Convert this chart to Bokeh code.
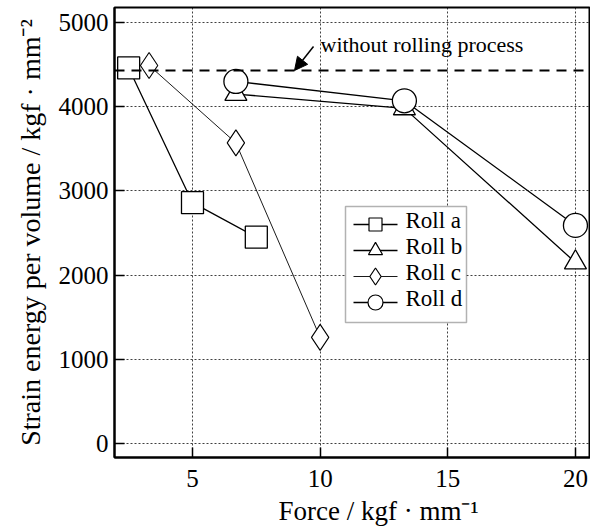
import math
from bokeh.plotting import figure
from bokeh.models import (Span, Label, Arrow, NormalHead, FixedTicker, Range1d,
                          BoxAnnotation, Title)
from bokeh.embed import file_html
from bokeh.resources import INLINE

# ---- data ----
roll_a_x = [2.5, 5.0, 7.5]
roll_a_y = [4460, 2860, 2450]
roll_b_x = [6.7, 13.3, 20.0]
roll_b_y = [4150, 3980, 2150]
roll_c_x = [3.3, 6.7, 10.0]
roll_c_y = [4490, 3570, 1260]
roll_d_x = [6.7, 13.3, 20.0]
roll_d_y = [4300, 4070, 2590]
reference_level = 4430
x_ticks = [5, 10, 15, 20]
y_ticks = [0, 1000, 2000, 3000, 4000, 5000]
series_names = ["Roll a", "Roll b", "Roll c", "Roll d"]

FONT = "Liberation Serif"

# layout (pixels)
W, H = 590, 531
FL, FR, FT, FB = 114, 590, 7, 457
X0, X1 = 1.945, 20.59
Y0, Y1 = -166, 5178


def sx(px):
    return X0 + (px - FL) * (X1 - X0) / (FR - FL)


def sy(py):
    return Y1 - (py - FT) * (Y1 - Y0) / (FB - FT)


p = figure(width=W, height=H, output_backend="svg", toolbar_location=None,
           x_range=Range1d(X0, X1), y_range=Range1d(Y0, Y1),
           min_border_left=FL, min_border_right=W - FR,
           min_border_top=FT, min_border_bottom=H - FB)

p.background_fill_color = "white"
p.border_fill_color = "white"
p.outline_line_color = "black"
p.outline_line_width = 2

for ax in (p.xaxis, p.yaxis):
    ax.major_label_text_font = FONT
    ax.major_label_text_font_size = "25px"
    ax.major_label_text_color = "black"
    ax.axis_line_color = "black"
    ax.axis_line_width = 2
    ax.major_tick_in = 10
    ax.major_tick_out = 0
    ax.major_tick_line_color = "black"
    ax.major_tick_line_width = 1.5
    ax.minor_tick_line_color = None
    ax.axis_label_text_font = FONT
    ax.axis_label_text_font_style = "normal"
    ax.axis_label_text_color = "black"
p.xaxis.ticker = FixedTicker(ticks=x_ticks)
p.yaxis.ticker = FixedTicker(ticks=y_ticks)
p.xaxis.major_label_standoff = 12
p.yaxis.major_label_standoff = 6

p.yaxis.axis_label = "Strain energy per volume / kgf · mm⁻²"
p.yaxis.axis_label_text_font_size = "28px"
p.yaxis.axis_label_standoff = 10

p.add_layout(Title(text="Force  / kgf · mm⁻¹", align="left", offset=164,
                   text_font=FONT, text_font_size="27px", text_font_style="normal",
                   text_color="black", standoff=8), "below")

p.grid.grid_line_color = "black"
p.grid.grid_line_alpha = 0.75
p.grid.grid_line_dash = "2 2"
p.grid.grid_line_width = 1

# reference dashed line
p.add_layout(Span(location=reference_level, dimension="width",
                  line_color="black", line_width=2, line_dash="10 7"))

# series
series = [
    (roll_a_x, roll_a_y, "square", 22, 1.3, 13),
    (roll_c_x, roll_c_y, "diamond", 26, 0.9, 17),
    (roll_b_x, roll_b_y, "triangle", 22, 1.3, 14),
    (roll_d_x, roll_d_y, "circle", 24, 1.3, 15),
]
for xs, ys, mk, size, lw, _ in series:
    p.line(xs, ys, line_color="black", line_width=lw)
    p.scatter(xs, ys, marker=mk, size=size, fill_color="white",
              line_color="black", line_width=1.3 if lw > 1 else 1.1)

# manual legend
p.add_layout(BoxAnnotation(left=sx(345), right=sx(466), top=sy(206), bottom=sy(322),
                           fill_color="white", fill_alpha=1, line_color="black",
                           line_width=1.5, level="underlay"))
legend_order = [0, 2, 1, 3]  # a, b, c, d
for row, idx in enumerate(legend_order):
    xs, ys, mk, size, lw, lsize = series[idx]
    cy = 224 + 26 * row
    p.line([sx(353), sx(397)], [sy(cy), sy(cy)], line_color="black", line_width=lw)
    p.scatter([sx(375)], [sy(cy)], marker=mk, size=lsize, fill_color="white",
              line_color="black", line_width=1.2)
    p.add_layout(Label(x=sx(405), y=sy(cy + 8), text=series_names[row],
                       text_font=FONT, text_font_size="23px", text_color="black"))

# annotation text + arrow
p.add_layout(Label(x=sx(320), y=sy(56), text="without rolling process",
                   text_font=FONT, text_font_size="22px", text_color="black"))
p.add_layout(Arrow(x_start=sx(313), y_start=sy(46), x_end=sx(294), y_end=sy(70),
                   line_color="black", line_width=1.5,
                   end=NormalHead(size=13, fill_color="black", line_color="black")))

open("out.html", "w").write(file_html(p, INLINE))
